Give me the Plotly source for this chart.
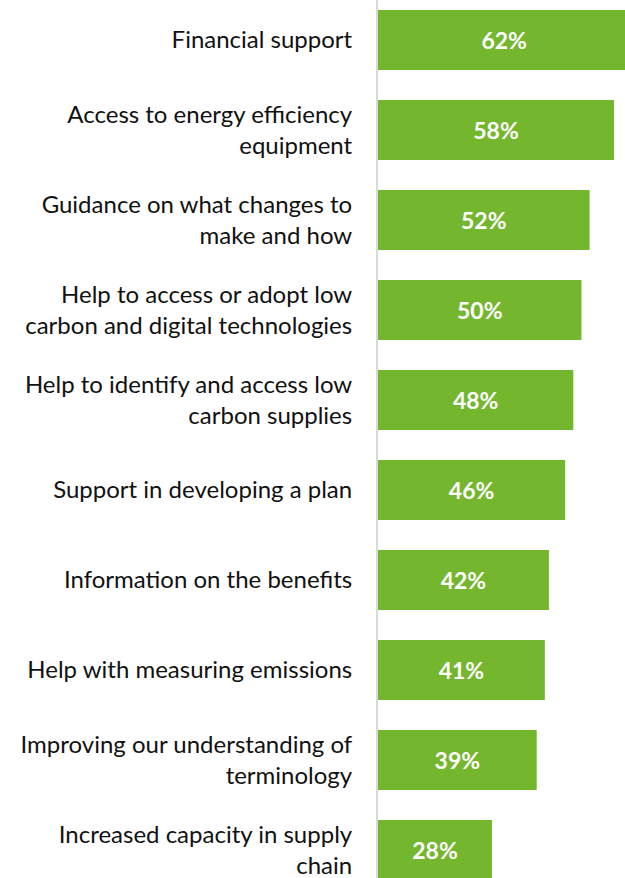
import plotly.graph_objects as go

categories = [
    "Financial support",
    "Access to energy efficiency<br>equipment",
    "Guidance on what changes to<br>make and how",
    "Help to access or adopt low<br>carbon and digital technologies",
    "Help to identify and access low<br>carbon supplies",
    "Support in developing a plan",
    "Information on the benefits",
    "Help with measuring emissions",
    "Improving our understanding of<br>terminology",
    "Increased capacity in supply<br>chain",
]
values = [62, 58, 52, 50, 48, 46, 42, 41, 39, 28]
labels = [f"{v}%" for v in values]

fig = go.Figure(
    go.Bar(
        x=values,
        y=categories,
        orientation="h",
        marker=dict(color="#74B72E", line=dict(width=0)),
        text=labels,
        textposition="inside",
        insidetextanchor="middle",
        textfont=dict(family="Lato", size=23, color="white", weight="bold"),
        cliponaxis=True,
    )
)

fig.update_layout(
    width=625,
    height=878,
    margin=dict(l=378, r=0, t=0, b=0),
    paper_bgcolor="white",
    plot_bgcolor="white",
    bargap=0.333,
    showlegend=False,
    font=dict(family="Lato", size=24, color="#111111"),
)
fig.update_xaxes(range=[0, 60.7], visible=False, showgrid=False, zeroline=False)
fig.update_yaxes(
    categoryorder="array",
    categoryarray=categories,
    range=[9.311, -0.444],
    showgrid=False,
    zeroline=False,
    showline=True,
    linecolor="#d9d9d9",
    linewidth=2,
    ticks="",
    ticklabelstandoff=19,
    tickfont=dict(family="Lato", size=24, color="#111111"),
)

fig.write_html("out.html")
